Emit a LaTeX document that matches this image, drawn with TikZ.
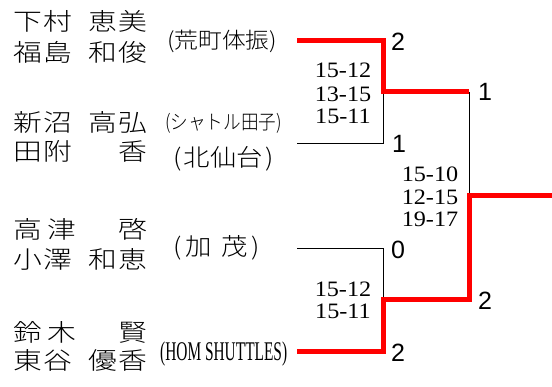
\documentclass[tikz,border=0pt]{standalone}
\usepackage{graphicx}
\usepackage{fontspec}
\setmainfont{Liberation Serif}
\newfontfamily\jpfont{Noto Sans CJK JP Light}
\newfontfamily\numfont{Liberation Sans}
\newfontfamily\scorefont{Liberation Serif}
\newcommand\nmline[4]{\makebox[30pt][l]{\scalebox{1.2}[1]{#1}}\makebox[45pt][l]{\scalebox{1.2}[1]{#2}}\makebox[30pt][l]{\scalebox{1.2}[1]{#3}}\scalebox{1.2}[1]{#4}}
\tikzset{
  nm/.style={font=\jpfont\fontsize{24}{28}\selectfont, inner sep=0pt, anchor=base west},
  club/.style={inner sep=0pt, anchor=base west},
  score/.style={font=\scorefont\fontsize{22}{24}\selectfont, inner sep=0pt, anchor=base},
  cnt/.style={font=\numfont\fontsize{25}{28}\selectfont, inner sep=0pt, anchor=base},
  win/.style={draw=red, line width=5pt, line join=miter},
  lose/.style={draw=black, line width=1pt}
}
\begin{document}
\begin{tikzpicture}[x=1pt,y=-1pt]
\useasboundingbox (0,0) rectangle (552,387);
% player names
\node[nm] (n1) at (13,31) {\nmline{下}{村}{恵}{美}};
\node[nm] (n2) at (13,62) {\nmline{福}{島}{和}{俊}};
\node[nm] (n3) at (13,132) {\nmline{新}{沼}{高}{弘}};
\node[nm] (n4) at (13,161) {\nmline{田}{附}{}{香}};
\node[nm] (n5) at (13,239) {\nmline{高}{\hspace{4pt}津}{}{啓}};
\node[nm] (n6) at (13,269) {\nmline{小}{澤}{和}{恵}};
\node[nm] (n7) at (13,342) {\nmline{鈴}{\hspace{4pt}木}{}{賢}};
\node[nm] (n8) at (13,370) {\nmline{東}{谷}{優}{香}};
% clubs
\node[club, font=\jpfont\fontsize{22}{26}\selectfont] (c1) at (167,49) {\scalebox{1.08}[1]{(荒町体振)}};
\node[club, font=\jpfont\fontsize{20}{24}\selectfont] (c2) at (165,129.5) {\scalebox{0.88}[1]{(シャトル田子)}};
\node[club, font=\jpfont\fontsize{24}{28}\selectfont] (c3) at (173,167) {\scalebox{1.1}[1]{(\hspace{2pt}北仙台\hspace{2pt})}};
\node[club, font=\jpfont\fontsize{24}{28}\selectfont] (c4) at (173,256) {\scalebox{1.1}[1]{(\hspace{4pt}加\hspace{8pt}茂\hspace{4pt})}};
\node[club, font=\scorefont\fontsize{27}{30}\selectfont] (c5) at (160,361) {\scalebox{0.57}[1]{(HOM SHUTTLES)}};
% bracket points
\coordinate (a1) at (297,41);
\coordinate (a2) at (297,144);
\coordinate (a3) at (297,249);
\coordinate (a4) at (297,352);
\coordinate (m1) at (383.5,92);
\coordinate (m2) at (383.5,300);
\coordinate (m1e) at (469,92);
\coordinate (m2e) at (469,300);
\coordinate (f) at (469,196);
\coordinate (w) at (552,196);
\draw[lose] (a2) -| (m1);
\draw[lose] (a3) -| (m2);
\draw[lose] (m1e) -- (f);
\draw[win] (a1) -| (m1) -- (m1e);
\draw[win] (a4) -| (m2) -- (m2e) -- (f) -- (w);
% game counts
\node[cnt] (k1) at (398,51) {2};
\node[cnt] (k2) at (399,153) {1};
\node[cnt] (k3) at (398,259) {0};
\node[cnt] (k4) at (398,362) {2};
\node[cnt] (k5) at (485,101) {1};
\node[cnt] (k6) at (485,310) {2};
% scores
\node[score] (s1a) at (343,78) {\scalebox{1.1}[1]{15-12}};
\node[score] (s1b) at (343,102) {\scalebox{1.1}[1]{13-15}};
\node[score] (s1c) at (343,123.5) {\scalebox{1.1}[1]{15-11}};
\node[score] (s2a) at (430,182) {\scalebox{1.1}[1]{15-10}};
\node[score] (s2b) at (430,205) {\scalebox{1.1}[1]{12-15}};
\node[score] (s2c) at (430,227) {\scalebox{1.1}[1]{19-17}};
\node[score] (s3a) at (343,297) {\scalebox{1.1}[1]{15-12}};
\node[score] (s3b) at (343,318.5) {\scalebox{1.1}[1]{15-11}};
\end{tikzpicture}
\end{document}
